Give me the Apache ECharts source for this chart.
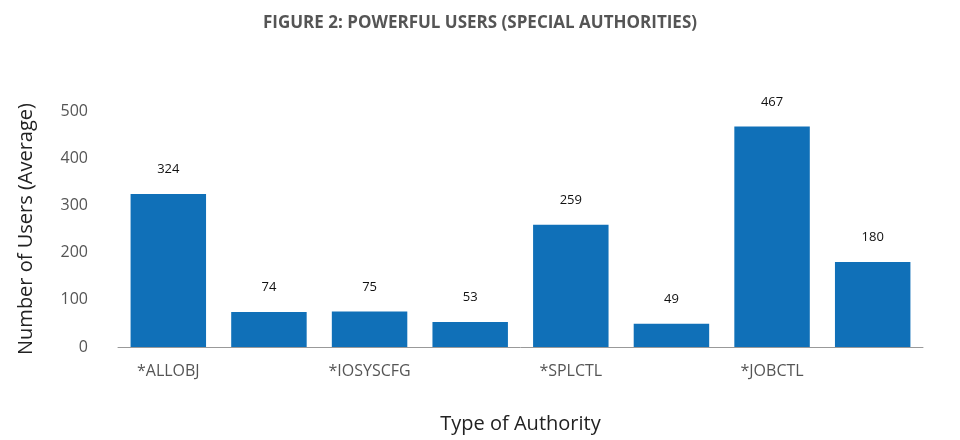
<!DOCTYPE html>
<html><head><meta charset="utf-8">
<script src="https://cdn.jsdelivr.net/npm/echarts@6/dist/echarts.min.js"></script>
<style>html,body{margin:0;padding:0;background:#fff}#c{width:960px;height:440px}</style>
</head><body><div id="c"></div>
<script>
const categories = ['*ALLOBJ','*SECADM','*IOSYSCFG','*AUDIT','*SPLCTL','*SERVICE','*JOBCTL','*SAVSYS'];
const values = [324, 74, 75, 53, 259, 49, 467, 180];
const chart = echarts.init(document.getElementById('c'));
chart.setOption({
  animation: false,
  title: {text: 'FIGURE 2: POWERFUL USERS (SPECIAL AUTHORITIES)', left: 'center', top: 10,
    textStyle: {fontFamily: 'Open Sans', fontWeight: 'bold', fontSize: 17, color: '#555'}},
  grid: {left: 118, right: 37, top: 111, bottom: 93},
  xAxis: {type: 'category', data: categories,
    name: 'Type of Authority', nameLocation: 'middle', nameGap: 67,
    nameTextStyle: {fontFamily: 'Open Sans', fontSize: 20, color: '#222'},
    axisLine: {lineStyle: {color: '#999'}}, axisTick: {show: false},
    axisLabel: {fontFamily: 'Open Sans', fontSize: 16, color: '#555', margin: 16}},
  yAxis: {type: 'value', min: 0, max: 500, interval: 100,
    name: 'Number of Users (Average)', nameLocation: 'middle', nameGap: 82,
    nameTextStyle: {fontFamily: 'Open Sans', fontSize: 20, color: '#222'},
    splitLine: {show: false}, axisLine: {show: false}, axisTick: {show: false},
    axisLabel: {fontFamily: 'Open Sans', fontSize: 16, color: '#555', margin: 30}},
  series: [{type: 'bar', data: values, barCategoryGap: '25%',
    itemStyle: {color: '#1070b8'},
    label: {show: true, position: 'top', distance: 16, fontFamily: 'Open Sans', fontSize: 13, color: '#111',
      backgroundColor: '#fff', padding: [2, 6]}}]
});
</script></body></html>
